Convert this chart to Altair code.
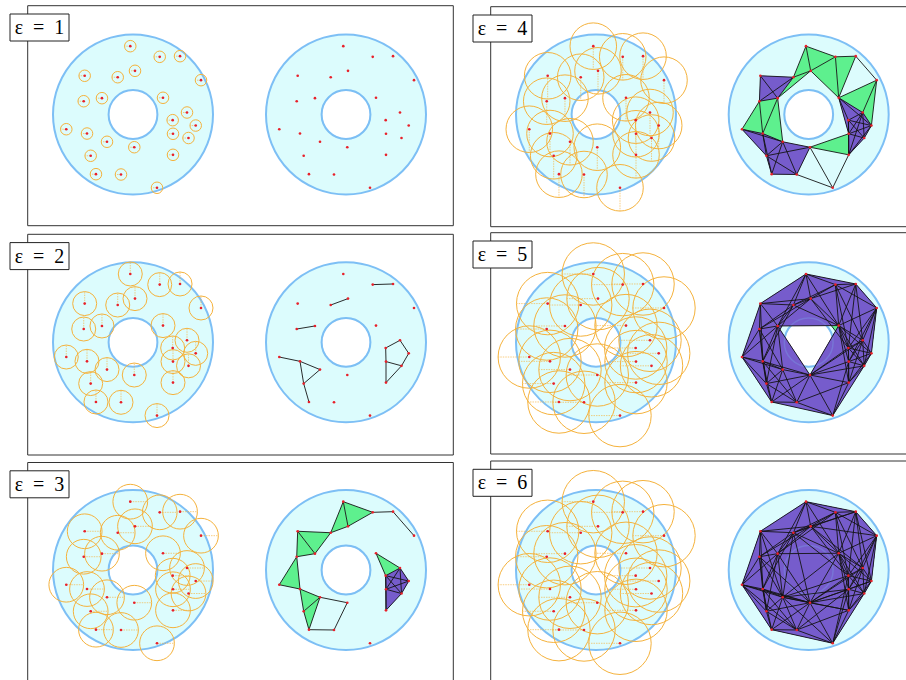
import itertools
import math

import altair as alt
import numpy as np
import pandas as pd

# Sample points inside the annulus (outer radius 10, inner radius 3.05)
pt_x = [-0.34, 3.34, 5.88, -6.04, -1.91, 0.25, 8.50, -6.16, -3.88, 3.75, 6.75, 4.96,
        7.84, -8.34, -5.75, 5.00, 6.94, -3.25, 0.16, -5.29, 5.00, -4.63, -1.50, 3.00]
pt_y = [8.54, 7.21, 7.29, 4.84, 4.66, 5.46, 4.29, 1.66, 2.04, 2.09, 0.25, -0.71,
        -1.38, -1.84, -2.38, -2.41, -2.94, -3.41, -4.09, -5.16, -5.04, -7.46, -7.50, -9.16]

OUTER_R = 10.0
INNER_R = 3.05

eps_values = [1, 2, 3, 4, 5, 6]
ball_radius = [0.72, 1.50, 2.17, 2.91, 3.90, 3.90]      # drawn balls
cech_radius = [0.72, 1.456, 2.175, 2.91, 4.05, 4.50]    # radius used for the complex
radius_angle = [180, 90, 0, 270, 180, 180]              # direction of the radius marker

# colours
CYAN = "#dcfcfd"
BLUE = "#7dbff5"
ORANGE = "#f5b23c"
RED = "#e8202a"
GREEN = "#5ef08e"
PURPLE = "#765ccc"

# page layout (pixels)
PX = 8.0  # pixels per data unit
col_left = [27.7, 490.7]
col_right = [453.3, 930.0]
row_top = [[5.7, 234.3, 462.5], [6.7, 232.7, 461.0]]
row_bottom = [[225.7, 455.0, 700.0], [226.7, 454.0, 700.0]]
annulus_cx = [[133.0, 346.0], [596.0, 808.7]]
row_cy = [114.5, 342.3, 570.0]

P = np.column_stack([pt_x, pt_y])
N = len(P)
D = np.linalg.norm(P[:, None, :] - P[None, :, :], axis=2)


def circumcenter(a, b, c):
    d = 2 * (a[0] * (b[1] - c[1]) + b[0] * (c[1] - a[1]) + c[0] * (a[1] - b[1]))
    if abs(d) < 1e-12:
        return None
    ux = ((a @ a) * (b[1] - c[1]) + (b @ b) * (c[1] - a[1]) + (c @ c) * (a[1] - b[1])) / d
    uy = ((a @ a) * (c[0] - b[0]) + (b @ b) * (a[0] - c[0]) + (c @ c) * (b[0] - a[0])) / d
    return np.array([ux, uy])


def enclosing_radius(idx):
    pts = P[list(idx)]
    best = math.inf
    for i, j in itertools.combinations(range(len(pts)), 2):
        c = (pts[i] + pts[j]) / 2
        r = np.linalg.norm(pts[i] - pts[j]) / 2
        if np.all(np.linalg.norm(pts - c, axis=1) <= r + 1e-9):
            best = min(best, r)
    for i, j, k in itertools.combinations(range(len(pts)), 3):
        c = circumcenter(pts[i], pts[j], pts[k])
        if c is None:
            continue
        r = np.linalg.norm(pts[i] - c)
        if np.all(np.linalg.norm(pts - c, axis=1) <= r + 1e-9):
            best = min(best, r)
    return best


def cech_complex(rc):
    edges = [(i, j) for i, j in itertools.combinations(range(N), 2) if D[i, j] <= 2 * rc]
    eset = set(edges)
    tris = [t for t in itertools.combinations(range(N), 3)
            if all(e in eset for e in itertools.combinations(t, 2)) and enclosing_radius(t) <= rc]
    tset = set(tris)
    # a 4-vertex set is shaded as a solid once all four of its faces are filled
    solids = [q for q in itertools.combinations(range(N), 4)
              if all(f in tset for f in itertools.combinations(q, 3))]
    in_solid = set()
    for q in solids:
        in_solid.update(itertools.combinations(q, 3))
    return edges, tris, in_solid


frame_rows, disk_rows, point_rows, ball_rows = [], [], [], []
edge_rows, tri_rows = [], []
tri_id = 0
for k, eps in enumerate(eps_values):
    c, r = divmod(k, 3)
    top = row_top[c][r]
    frame_rows.append(dict(x=col_left[c], x2=col_right[c], y=top, y2=row_bottom[c][r],
                           lx=col_left[c] - 17.7, lx2=col_left[c] + 41.3,
                           ly=top + 8.3, ly2=top + 35.3,
                           tx=col_left[c] + 11.8, ty=top + 22.3,
                           label=f"\u03b5\u2002=\u2002{eps}"))
    cy = row_cy[r]
    for side in range(2):
        cx = annulus_cx[c][side]
        disk_rows.append(dict(x=cx, y=cy, ro=OUTER_R, ri=INNER_R, side=side))
        for i in range(N):
            point_rows.append(dict(x=cx + PX * P[i, 0], y=cy - PX * P[i, 1]))

    # balls around the points in the left annulus
    cx = annulus_cx[c][0]
    rb = ball_radius[k]
    ang = math.radians(radius_angle[k])
    for i in range(N):
        x0, y0 = cx + PX * P[i, 0], cy - PX * P[i, 1]
        ball_rows.append(dict(x=x0, y=y0, r=rb,
                              xe=x0 + PX * rb * math.cos(ang), ye=y0 - PX * rb * math.sin(ang)))

    # Čech complex in the right annulus
    cx = annulus_cx[c][1]
    edges, tris, in_solid = cech_complex(cech_radius[k])
    for i, j in edges:
        edge_rows.append(dict(x=cx + PX * P[i, 0], y=cy - PX * P[i, 1],
                              x2=cx + PX * P[j, 0], y2=cy - PX * P[j, 1]))
    for t in sorted(tris, key=lambda t: t in in_solid):
        kind = "tet" if t in in_solid else "tri"
        for vi, p in enumerate(t):
            tri_rows.append(dict(tid=tri_id, vi=vi, kind=kind,
                                 x=cx + PX * P[p, 0], y=cy - PX * P[p, 1]))
        tri_id += 1

frames = pd.DataFrame(frame_rows)
disks = pd.DataFrame(disk_rows)
points = pd.DataFrame(point_rows)
balls = pd.DataFrame(ball_rows)
edges_df = pd.DataFrame(edge_rows)
tris_df = pd.DataFrame(tri_rows)

xs = alt.Scale(domain=[0, 906], nice=False, zero=False)
ys = alt.Scale(domain=[0, 680], nice=False, zero=False, reverse=True)
ss = alt.Scale(type="pow", exponent=2, domain=[0, 10], range=[0, (2 * PX * 10) ** 2])


def X(f):
    return alt.X(f, type="quantitative", scale=xs, axis=None)


def Y(f):
    return alt.Y(f, type="quantitative", scale=ys, axis=None)


frame_layer = alt.Chart(frames).mark_rect(
    fill="white", fillOpacity=0, stroke="#333333", strokeWidth=1
).encode(x=X("x"), x2="x2", y=Y("y"), y2="y2")

outer_layer = alt.Chart(disks).mark_point(
    shape="circle", filled=True, fill=CYAN, stroke=BLUE, strokeWidth=2, opacity=1
).encode(x=X("x"), y=Y("y"), size=alt.Size("ro:Q", scale=ss, legend=None))

inner_layer = alt.Chart(disks).mark_point(
    shape="circle", filled=True, fill="white", stroke=BLUE, strokeWidth=2, opacity=1
).encode(x=X("x"), y=Y("y"), size=alt.Size("ri:Q", scale=ss, legend=None))

green_layer = alt.Chart(tris_df).transform_filter(alt.datum.kind == "tri").mark_line(
    fill=GREEN, strokeWidth=0, strokeOpacity=0
).encode(x=X("x"), y=Y("y"), detail="tid:N", order="vi:Q")

purple_layer = alt.Chart(tris_df).transform_filter(alt.datum.kind == "tet").mark_line(
    fill=PURPLE, strokeWidth=0, strokeOpacity=0
).encode(x=X("x"), y=Y("y"), detail="tid:N", order="vi:Q")

inner_ghost = alt.Chart(disks).transform_filter(alt.datum.side == 1).mark_point(
    shape="circle", filled=False, stroke=BLUE, strokeWidth=1.5, strokeOpacity=0.25, opacity=1
).encode(x=X("x"), y=Y("y"), size=alt.Size("ri:Q", scale=ss, legend=None))

edge_layer = alt.Chart(edges_df).mark_rule(color="#141414", strokeWidth=0.9).encode(
    x=X("x"), y=Y("y"), x2="x2", y2="y2"
)

ball_layer = alt.Chart(balls).mark_point(
    shape="circle", filled=False, stroke=ORANGE, strokeWidth=1, opacity=1
).encode(x=X("x"), y=Y("y"), size=alt.Size("r:Q", scale=ss, legend=None))

radius_layer = alt.Chart(balls).mark_rule(
    color=ORANGE, strokeWidth=0.8, strokeDash=[1.5, 1], opacity=0.8
).encode(x=X("x"), y=Y("y"), x2="xe", y2="ye")

point_layer = alt.Chart(points).mark_circle(color=RED, size=7, opacity=1).encode(
    x=X("x"), y=Y("y")
)

label_box = alt.Chart(frames).mark_rect(
    fill="white", stroke="#222222", strokeWidth=1
).encode(x=X("lx"), x2="lx2", y=Y("ly"), y2="ly2")

label_text = alt.Chart(frames).mark_text(
    font="Liberation Serif", fontSize=20, color="black", align="center", baseline="middle"
).encode(x=X("tx"), y=Y("ty"), text="label:N")

chart = alt.layer(
    frame_layer, outer_layer, inner_layer, green_layer, purple_layer, inner_ghost,
    edge_layer, ball_layer, radius_layer, point_layer, label_box, label_text
).properties(
    width=906, height=680, autosize=alt.AutoSizeParams(type="none"), padding=0
).configure_view(stroke=None)

chart.save("out.html", embed_options={"renderer": "svg", "actions": False})
